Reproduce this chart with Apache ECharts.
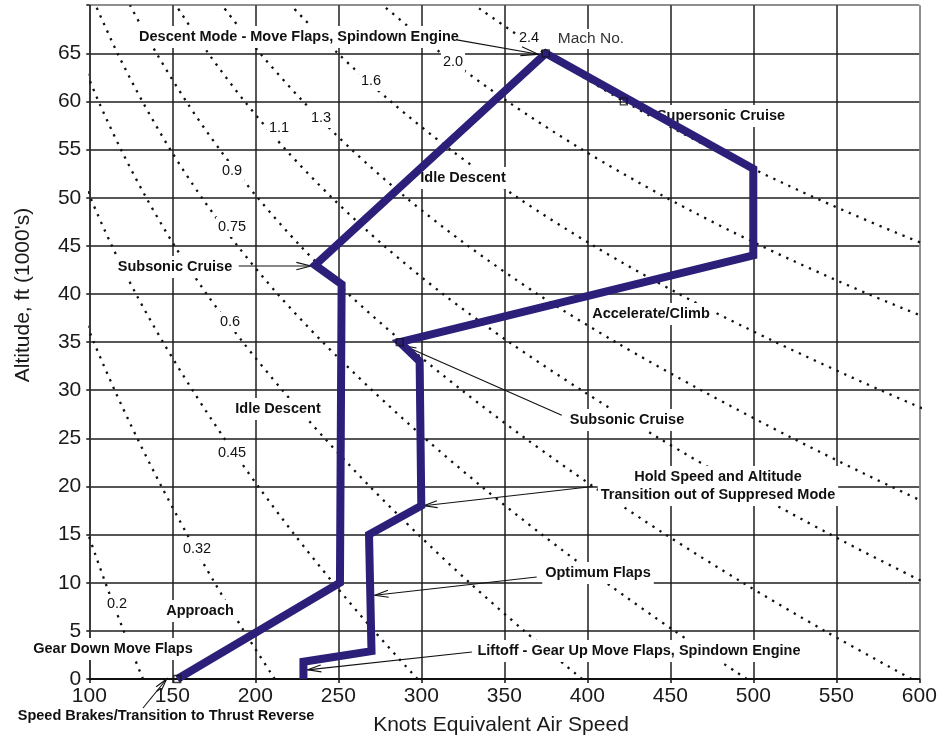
<!DOCTYPE html>
<html>
<head>
<meta charset="utf-8">
<title>Flight Profile – Knots EAS vs Altitude</title>
<script src="https://cdn.jsdelivr.net/npm/echarts@6/dist/echarts.min.js"></script>
<style>
  html, body { margin: 0; padding: 0; background: #fff; }
  #chart { width: 946px; height: 742px; }
</style>
</head>
<body>
<div id="chart"></div>
<script>
// ---------------- data ----------------
// Axis ranges (knots EAS, altitude in 1000 ft)
const speedRange = [100, 600, 50];
const altitudeRange = [0, 70, 5];

// Constant-Mach lines: [knots EAS, altitude (1000 ft)]
const mach020 = [[132.3,0],[120.7,5],[109.7,10],[99.4,15]];
const mach032 = [[211.7,0],[193.1,5],[175.5,10],[159.0,15],[143.5,20],[128.9,25],[115.3,30],[102.7,35],[91.1,40]];
const mach045 = [[297.7,0],[271.5,5],[246.9,10],[223.6,15],[201.8,20],[181.3,25],[162.2,30],[144.4,35],[128.1,40],[113.6,45],[100.7,50],[89.3,55]];
const mach060 = [[396.9,0],[362.0,5],[329.1,10],[298.2,15],[269.0,20],[241.8,25],[216.3,30],[192.5,35],[170.7,40],[151.4,45],[134.3,50],[119.1,55],[105.6,60],[93.6,65]];
const mach075 = [[496.1,0],[452.5,5],[411.4,10],[372.7,15],[336.3,20],[302.2,25],[270.4,30],[240.6,35],[213.4,40],[189.3,45],[167.8,50],[148.8,55],[132.0,60],[117.0,65],[103.8,70]];
const mach090 = [[595.3,0],[543.0,5],[493.7,10],[447.2,15],[403.6,20],[362.7,25],[324.4,30],[288.8,35],[256.1,40],[227.1,45],[201.4,50],[178.6,55],[158.4,60],[140.5,65],[124.5,70]];
const mach110 = [[663.7,5],[603.4,10],[546.6,15],[493.3,20],[443.3,25],[396.5,30],[352.9,35],[313.0,40],[277.6,45],[246.2,50],[218.3,55],[193.6,60],[171.7,65],[152.2,70]];
const mach130 = [[713.1,10],[646.0,15],[582.9,20],[523.8,25],[468.6,30],[417.1,35],[369.9,40],[328.1,45],[290.9,50],[258.0,55],[228.8,60],[202.9,65],[179.9,70]];
const mach160 = [[717.5,20],[644.7,25],[576.7,30],[513.4,35],[455.3,40],[403.8,45],[358.1,50],[317.5,55],[281.6,60],[249.7,65],[221.4,70]];
const mach200 = [[720.9,30],[641.7,35],[569.2,40],[504.7,45],[447.6,50],[396.9,55],[352.0,60],[312.1,65],[276.8,70]];
const mach240 = [[770.0,35],[683.0,40],[605.6,45],[537.1,50],[476.3,55],[422.3,60],[374.5,65],[332.1,70]];
const machNumbers = ['0.2','0.32','0.45','0.6','0.75','0.9','1.1','1.3','1.6','2.0','2.4'];
const machCurves = [mach020, mach032, mach045, mach060, mach075, mach090, mach110, mach130, mach160, mach200, mach240];

// Mission profile (takeoff -> climb -> supersonic cruise -> descent -> landing)
const flightSpeed    = [229, 229, 270, 268.5, 300, 299, 287, 500, 500, 375, 236, 252, 251, 153];
const flightAltitude = [0,   1.8, 2.9, 15,    18,  33,  35,  44,  53,  65,  43,  41,  10,  0];

// Waypoints marked with small open squares
const waypointSpeed    = [153, 375, 422, 287];
const waypointAltitude = [0,   65,  60,  35];

// Phase annotations
const phaseLabels = [
  'Descent Mode - Move Flaps, Spindown Engine',
  'Supersonic Cruise',
  'Idle Descent',
  'Subsonic Cruise',
  'Accelerate/Climb',
  'Subsonic Cruise',
  'Idle Descent',
  'Hold Speed and Altitude\nTransition out of Suppresed Mode',
  'Optimum Flaps',
  'Approach',
  'Gear Down Move Flaps',
  'Liftoff - Gear Up Move Flaps, Spindown Engine',
  'Speed Brakes/Transition to Thrust Reverse'
];

// ---------------- layout ----------------
const FONT = '"Liberation Sans", Arial, Helvetica, sans-serif';
const PATH_COLOR = '#2b1f7a';

// pixel centres of the phase labels (same order as phaseLabels)
const phaseLabelPos = [
  [299, 37], [721, 116], [463, 178], [175, 267], [651, 314], [627, 420],
  [278, 409], [718, 486], [598, 573], [200, 611], [113, 649], [639, 651], [166, 716]
];
// pixel centres of the Mach number labels (same order as machNumbers)
const machLabelPos = [
  [117, 604], [197, 549], [232, 453], [230, 322], [232, 227], [232, 171],
  [279, 128], [321, 118], [371, 81], [453, 62], [529, 38]
];
// leader arrows: tail -> head, in chart units (knots, 1000 ft)
const leaderArrows = [
  { from: [321.4, 66.4], to: [370.5, 64.9], len: 18 },
  { from: [190.0, 42.9], to: [233.5, 42.9], len: 15 },
  { from: [384.6, 27.4], to: [290.0, 34.6], len: 12 },
  { from: [403.4, 20.0], to: [301.5, 18.0], len: 14 },
  { from: [369.5, 10.6], to: [272.0, 8.7],  len: 14 },
  { from: [330.5, 2.8],  to: [231.5, 0.95], len: 14 }
];

const gridRect = { left: 89.3, right: 26.7, top: 5.2, bottom: 63 };

const chart = echarts.init(document.getElementById('chart'), null, { renderer: 'canvas' });

function gridColors(n) {
  const c = [];
  for (let i = 0; i < n; i++) c.push(i === n - 1 ? '#6a6a6a' : '#1e1e1e');
  return c;
}

const machSeries = machCurves.map((pts, i) => ({
  type: 'line',
  name: 'Mach ' + machNumbers[i],
  data: pts,
  smooth: 0.3,
  symbol: 'none',
  clip: true,
  silent: true,
  z: 1,
  lineStyle: { color: '#111', width: 2.3, type: [2.3, 6], cap: 'butt' }
}));

chart.setOption({
  animation: false,
  backgroundColor: '#fff',
  grid: Object.assign({ containLabel: false, outerBoundsMode: 'none' }, gridRect),
  xAxis: {
    type: 'value',
    min: speedRange[0], max: speedRange[1], interval: speedRange[2],
    axisLine: { show: true, onZero: false, lineStyle: { color: '#111', width: 2 } },
    axisTick: { show: true, length: 4, lineStyle: { color: '#111', width: 1.5 } },
    axisLabel: { fontSize: 21, color: '#1a1a1a', margin: 7, fontFamily: FONT },
    splitLine: { show: true, lineStyle: { color: gridColors(11), width: 1.5 } }
  },
  yAxis: {
    type: 'value',
    min: altitudeRange[0], max: altitudeRange[1], interval: altitudeRange[2],
    axisLine: { show: true, onZero: false, lineStyle: { color: '#333', width: 1.5 } },
    axisTick: { show: true, length: 3, lineStyle: { color: '#111', width: 1.5 } },
    axisLabel: {
      fontSize: 21, color: '#1a1a1a', margin: 8, fontFamily: FONT,
      formatter: v => (v === altitudeRange[1] ? '' : String(v))
    },
    splitLine: { show: true, lineStyle: { color: gridColors(15), width: 1.5 } }
  },
  series: machSeries.concat([
    {
      type: 'line',
      name: 'Flight profile',
      data: flightSpeed.map((s, i) => [s, flightAltitude[i]]),
      symbol: 'none',
      clip: false,
      silent: true,
      z: 5,
      lineStyle: { color: PATH_COLOR, width: 8, join: 'miter', miterLimit: 4, cap: 'butt' }
    },
    {
      type: 'scatter',
      name: 'Waypoints',
      data: waypointSpeed.map((s, i) => [s, waypointAltitude[i]]),
      symbol: 'rect',
      symbolSize: 7,
      silent: true,
      z: 6,
      itemStyle: { color: 'rgba(255,255,255,0)', borderColor: '#111', borderWidth: 1.3 }
    }
  ])
});

// ---------------- annotations ----------------
function labelText(text, pos, opt) {
  return {
    type: 'text', x: pos[0], y: pos[1], z: 3, silent: true,
    style: Object.assign({
      text: text, fill: '#111', fontFamily: FONT, fontSize: 14.5, fontWeight: 'bold',
      align: 'center', verticalAlign: 'middle', backgroundColor: '#fff',
      padding: [2, 3], lineHeight: 18
    }, opt || {})
  };
}

function arrowParts(p1, p2, len) {
  const ang = Math.atan2(p2[1] - p1[1], p2[0] - p1[0]);
  const half = 0.25;
  const l = len || 13;
  const a = [p2[0] - l * Math.cos(ang - half), p2[1] - l * Math.sin(ang - half)];
  const b = [p2[0] - l * Math.cos(ang + half), p2[1] - l * Math.sin(ang + half)];
  return [
    { type: 'line', z: 4, silent: true,
      shape: { x1: p1[0], y1: p1[1], x2: p2[0], y2: p2[1] },
      style: { stroke: '#111', lineWidth: 1.1 } },
    { type: 'polyline', z: 4, silent: true,
      shape: { points: [a, p2, b] },
      style: { stroke: '#111', lineWidth: 1.1, fill: null } }
  ];
}

const toPx = v => chart.convertToPixel({ gridIndex: 0 }, v);
const graphics = [];

phaseLabels.forEach((t, i) => graphics.push(labelText(t, phaseLabelPos[i])));
machNumbers.forEach((t, i) => graphics.push(labelText(t, machLabelPos[i], {
  fontWeight: 'normal', fontSize: 14.5, padding: [1, 2]
})));
graphics.push(labelText('Mach No.', [591, 39], {
  fontWeight: 'normal', fontSize: 15.5, fill: '#333', padding: [1, 2]
}));

leaderArrows.forEach(a => {
  arrowParts(toPx(a.from), toPx(a.to), a.len).forEach(g => graphics.push(g));
});
// speed brake arrow rises from the caption below the axis
arrowParts([143, 708], toPx([146.6, 0]), 13).forEach(g => graphics.push(g));

// axis titles
graphics.push({
  type: 'text', x: 501, y: 725.5, silent: true,
  style: { text: 'Knots Equivalent Air Speed', fill: '#1a1a1a', fontFamily: FONT,
           fontSize: 21, align: 'center', verticalAlign: 'middle' }
});
graphics.push({
  type: 'text', x: 23, y: 295, rotation: Math.PI / 2, silent: true,
  style: { text: "Altitude, ft (1000's)", fill: '#1a1a1a', fontFamily: FONT,
           fontSize: 21, align: 'center', verticalAlign: 'middle' }
});

chart.setOption({ graphic: graphics });
</script>
</body>
</html>
